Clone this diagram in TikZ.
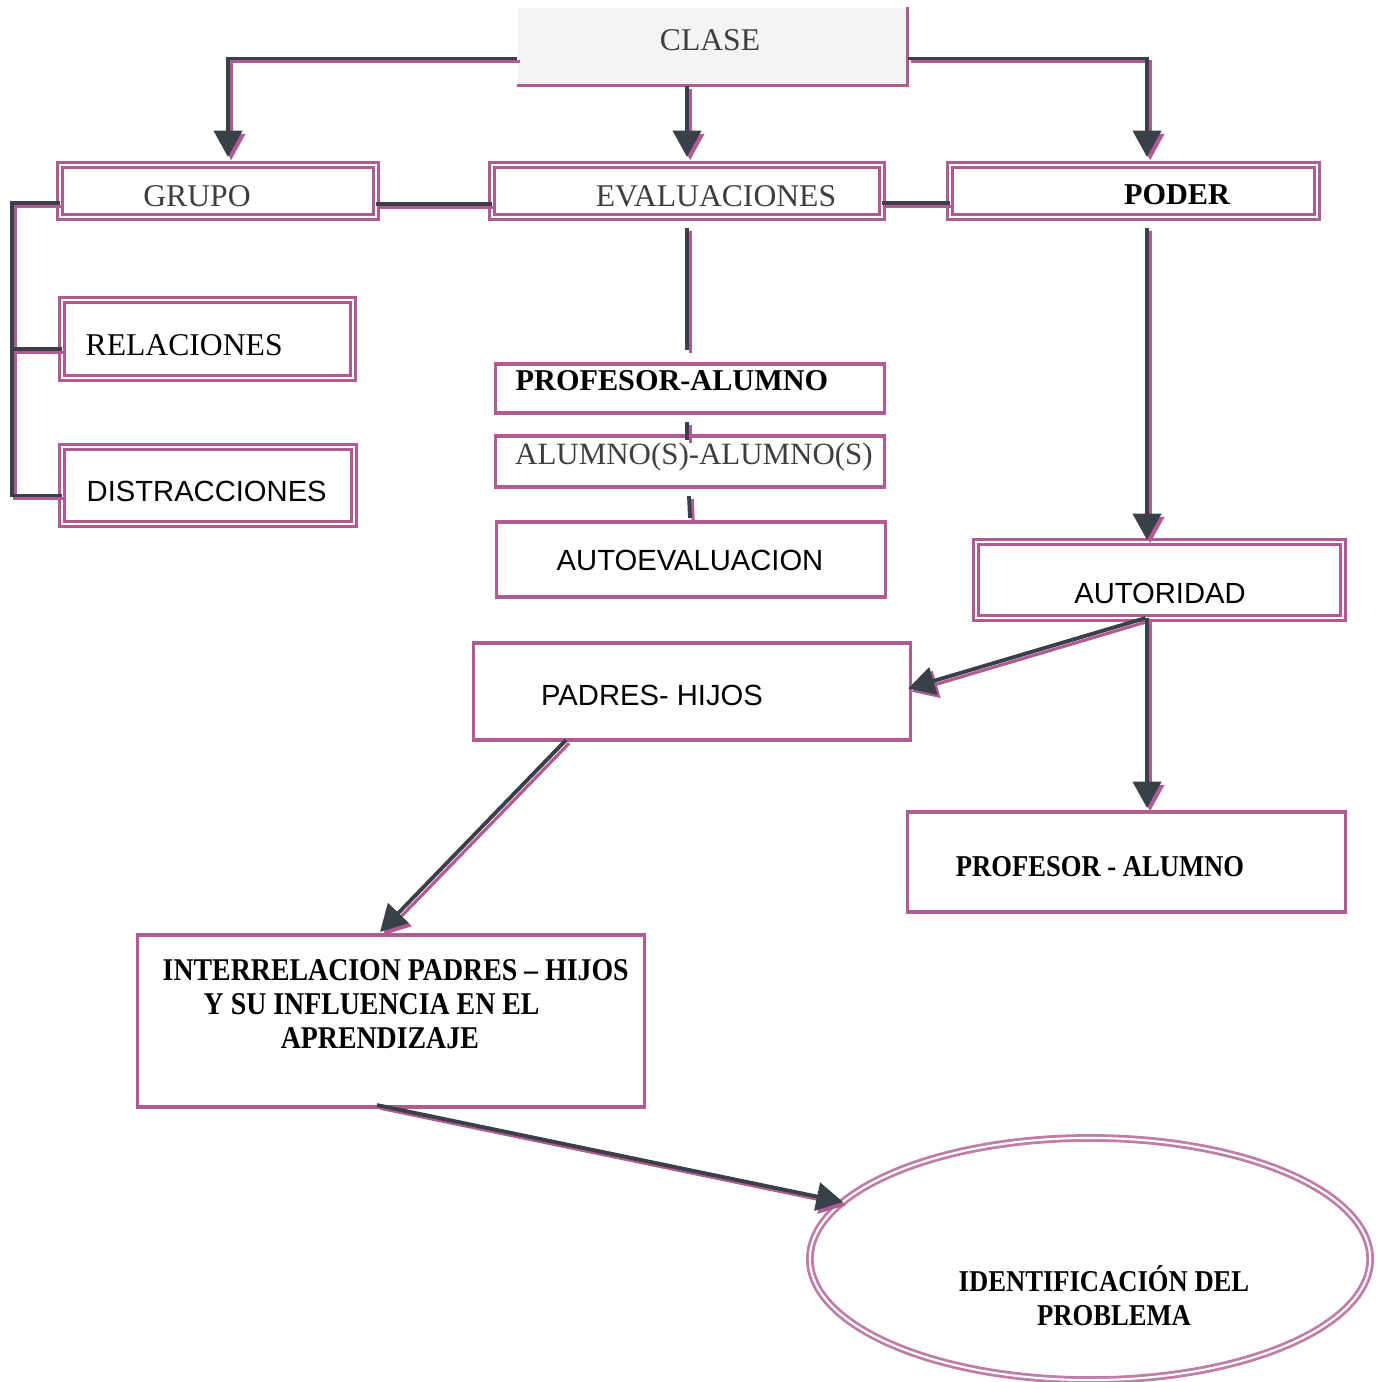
\documentclass[tikz,border=0pt]{standalone}
\usepackage{fontspec}
\setmainfont{Liberation Serif}
\setsansfont{Liberation Sans}
\newfontfamily\cbold[FakeStretch=0.88]{Liberation Serif}
\usetikzlibrary{arrows.meta,calc,shapes.geometric}
\definecolor{boxpink}{RGB}{176,92,146}
\definecolor{linkgray}{RGB}{58,64,72}
\definecolor{clasegray}{RGB}{244,244,244}
\definecolor{textgray}{RGB}{62,62,62}

\begin{document}
\begin{tikzpicture}[x=0.01cm,y=-0.01cm,
  box/.style={draw=boxpink, line width=0.9pt, inner sep=0pt, outer sep=0pt},
  dbox/.style={box, line width=0.8pt, double=white, double distance=0.6pt},
  lbl/.style={inner sep=0pt, text=black, font=\fontsize{9}{10.5}\selectfont},
  graylbl/.style={lbl, text=textgray},
  boldlbl/.style={lbl, font=\bfseries\fontsize{8.6}{9.7}\selectfont},
  condlbl/.style={lbl, font=\cbold\bfseries\fontsize{8.6}{9.7}\selectfont},
  sanslbl/.style={lbl, font=\sffamily\fontsize{8.3}{10}\selectfont},
  link/.style={draw=linkgray, line width=1.1pt,
    preaction={draw=boxpink, line width=0.9pt, transform canvas={shift={(0.9pt,-0.9pt)}}}},
  tip/.style={-{Triangle[length=7.5pt,width=8pt]}}
]
\useasboundingbox (0,0) rectangle (1379,1382);

% top level
\node[fill=clasegray, inner sep=0pt, minimum width=3.89cm, minimum height=0.77cm] (clase) at (712.5,46.5) {};
\draw[box] (clase.south west) -- (clase.south east) -- (clase.north east);
\node[graylbl] (clase-t) at (710,40) {CLASE};

\node[dbox, minimum width=3.16cm, minimum height=0.52cm] (grupo) at (218,191) {};
\node[graylbl] (grupo-t) at (197,196) {GRUPO};
\node[dbox, minimum width=3.9cm, minimum height=0.52cm] (evaluaciones) at (687,191) {};
\node[graylbl] (evaluaciones-t) at (716,196) {EVALUACIONES};
\node[dbox, minimum width=3.67cm, minimum height=0.52cm] (poder) at (1133.5,191) {};
\node[boldlbl] (poder-t) at (1177,195) {PODER};

% grupo
\node[dbox, minimum width=2.91cm, minimum height=0.78cm] (relaciones) at (207.5,339) {};
\node[lbl, anchor=west] (relaciones-t) at (85,345) {RELACIONES};
\node[dbox, minimum width=2.92cm, minimum height=0.77cm] (distracciones) at (208,485.5) {};
\node[sanslbl, anchor=west] (distracciones-t) at (86,491) {DISTRACCIONES};

% evaluaciones
\node[box, minimum width=3.88cm, minimum height=0.49cm] (profalumno) at (690,388.5) {};
\node[boldlbl, anchor=west] (profalumno-t) at (515,381) {PROFESOR-ALUMNO};
\node[box, minimum width=3.88cm, minimum height=0.51cm] (alumalumno) at (690,461.5) {};
\node[graylbl, font=\fontsize{8.8}{10}\selectfont] (alumalumno-t) at (694,457) {ALUMNO(S)-ALUMNO(S)};
\node[box, minimum width=3.88cm, minimum height=0.75cm] (autoeval) at (691,559.5) {};
\node[sanslbl] (autoeval-t) at (690,560) {AUTOEVALUACION};

% poder
\node[dbox, minimum width=3.67cm, minimum height=0.76cm] (autoridad) at (1159.5,580) {};
\node[sanslbl] (autoridad-t) at (1160,593) {AUTORIDAD};
\node[box, minimum width=4.36cm, minimum height=0.97cm] (padres) at (692,691.5) {};
\node[sanslbl] (padres-t) at (652,695) {PADRES- HIJOS};
\node[box, minimum width=4.37cm, minimum height=1cm] (profalumno2) at (1126.5,862) {};
\node[condlbl] (profalumno2-t) at (1100,867) {PROFESOR - ALUMNO};

% conclusion
\node[box, minimum width=5.06cm, minimum height=1.72cm] (inter) at (391,1021) {};
\node[condlbl, font=\cbold\bfseries\fontsize{9}{9.7}\selectfont, anchor=north west, align=left] (inter-t) at (162,959)
  {INTERRELACION PADRES – HIJOS\\\hspace*{0.41cm}Y SU INFLUENCIA EN EL\\\hspace*{1.18cm}APRENDIZAJE};
\node[dbox, ellipse, draw=boxpink!80, minimum width=5.6cm, minimum height=2.42cm] (ident) at (1090,1259) {};
\node[condlbl, align=center] (ident-t) at (1104,1296) {IDENTIFICACIÓN DEL\\\hspace*{0.2cm}PROBLEMA};

% connectors
\draw[link, tip] ($(clase.west)+(0,12)$) -| ($(grupo.north)+(10,-8)$);
\draw[link, tip] (evaluaciones.north |- clase.south) -- ($(evaluaciones.north)+(0,-8)$);
\draw[link, tip] ($(clase.east)+(0,12)$) -| ($(poder.north)+(13.5,-8)$);
\draw[link] ($(grupo.east)+(0,13)$) -- ($(evaluaciones.west)+(0,13)$);
\draw[link] ($(evaluaciones.east)+(0,12)$) -- ($(poder.west)+(0,12)$);
\draw[link] ($(grupo.west)+(0,12)$) -- ++(-48,0) |- ($(distracciones.west)+(0,10)$);
\draw[link] ($(relaciones.west)+(0,10)$) -- ++(-49,0);
\draw[link] ($(evaluaciones.south)+(0,11)$) -- ($(profalumno.north -| evaluaciones.south)+(0,-14)$);
\draw[link] ($(profalumno.south)+(-3,9)$) -- ($(alumalumno.north)+(-3,4)$);
\draw[link] ($(alumalumno.south)+(-1,9)$) -- ($(autoeval.north)+(-1,-4)$);
\draw[link, tip] ($(poder.south)+(13.5,11)$) -- ($(autoridad.north)+(-12.5,-2)$);
\draw[link, tip] ($(autoridad.south)+(-14,0)$) -- ($(padres.east)+(-2,-3)$);
\draw[link, tip] ($(autoridad.south)+(-12.5,0)$) -- ($(profalumno2.north)+(20.5,-4)$);
\draw[link, tip] ($(padres.south)+(-126,0)$) -- ($(inter.north)+(-11,-3)$);
\draw[link, tip] ($(inter.south)+(-14,-2)$) -- (ident.167);
\end{tikzpicture}
\end{document}
